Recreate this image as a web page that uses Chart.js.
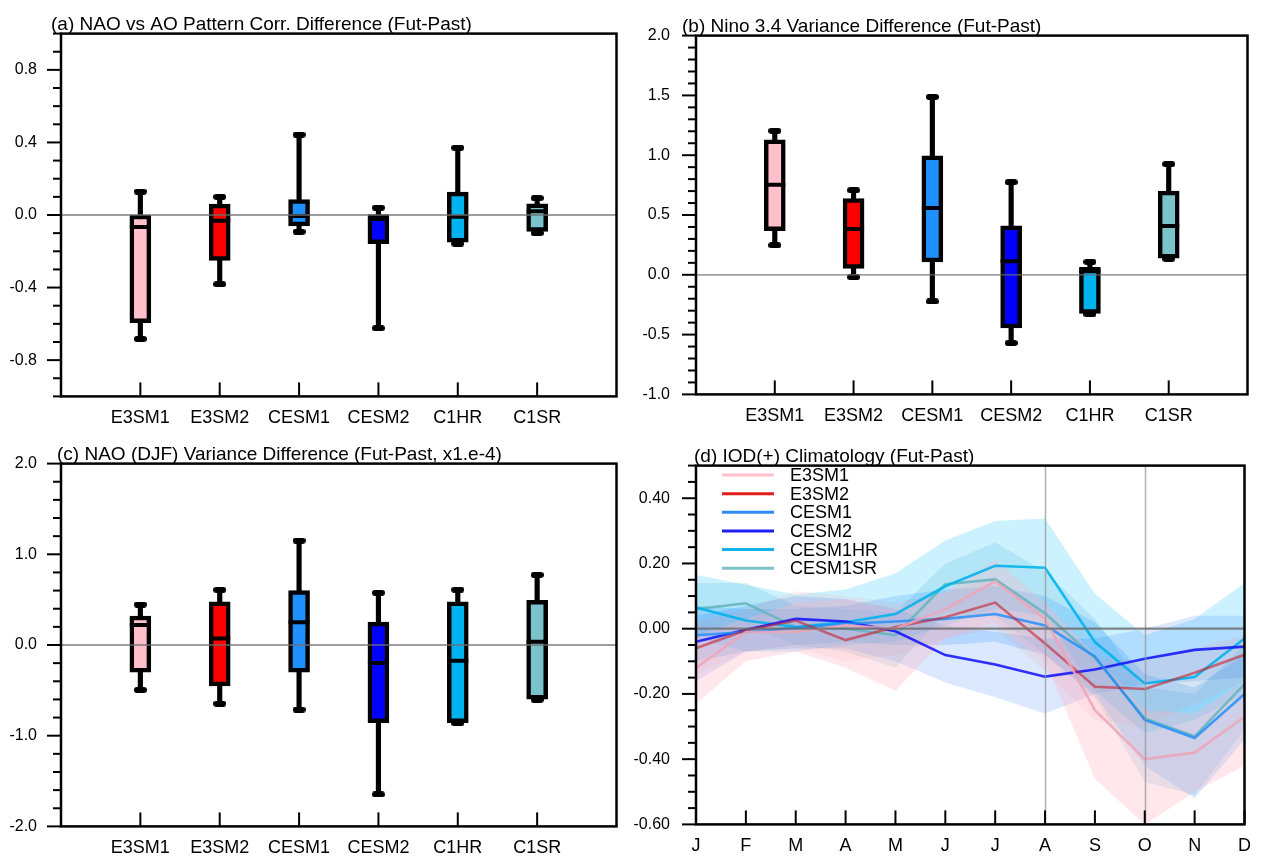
<!DOCTYPE html>
<html><head><meta charset="utf-8">
<script src="https://cdn.jsdelivr.net/npm/chart.js@4.4.1/dist/chart.umd.min.js"></script>
<style>
html,body{margin:0;padding:0;background:#fff;}
#wrap{position:relative;width:1262px;height:860px;background:#fff;}
.pan{position:absolute;width:631px;height:430px;}
</style></head><body>
<div id="wrap">
<div class="pan" style="left:0;top:0"><canvas id="ca" width="631" height="430"></canvas></div>
<div class="pan" style="left:631px;top:0"><canvas id="cb" width="631" height="430"></canvas></div>
<div class="pan" style="left:0;top:430px"><canvas id="cc" width="631" height="430"></canvas></div>
<div class="pan" style="left:631px;top:430px"><canvas id="cd" width="631" height="430"></canvas></div>
</div>
<script>
// ---------------- DATA ----------------
const models = ['E3SM1','E3SM2','CESM1','CESM2','C1HR','C1SR'];

// (a) NAO vs AO Pattern Corr. Difference
const aMax = [0.129, 0.100, 0.443, 0.040, 0.371, 0.093];
const aQ3  = [0.000, 0.060, 0.085, 0.002, 0.126, 0.061];
const aMed = [-0.066, -0.032, -0.005, -0.022, -0.010, 0.020];
const aQ1  = [-0.594, -0.250, -0.060, -0.158, -0.150, -0.091];
const aMin = [-0.683, -0.382, -0.092, -0.624, -0.158, -0.100];

// (b) Nino 3.4 Variance Difference
const bMax = [1.204, 0.707, 1.487, 0.774, 0.108, 0.925];
const bQ3  = [1.129, 0.637, 0.995, 0.409, 0.062, 0.699];
const bMed = [0.753, 0.382, 0.559, 0.113, 0.030, 0.409];
const bQ1  = [0.368, 0.054, 0.108, -0.444, -0.323, 0.140];
const bMin = [0.247, -0.019, -0.223, -0.570, -0.330, 0.134];

// (c) NAO (DJF) Variance Difference
const cMax = [0.446, 0.608, 1.151, 0.576, 0.610, 0.773];
const cQ3  = [0.320, 0.475, 0.600, 0.252, 0.475, 0.493];
const cMed = [0.220, 0.072, 0.252, -0.198, -0.173, 0.036];
const cQ1  = [-0.300, -0.450, -0.300, -0.856, -0.856, -0.597];
const cMin = [-0.496, -0.647, -0.712, -1.647, -0.863, -0.604];

// (d) IOD(+) Climatology
const months = ['J','F','M','A','M','J','J','A','S','O','N','D'];
const lineNames = ['E3SM1','E3SM2','CESM1','CESM2','CESM1HR','CESM1SR'];
const e3sm1Mean  = [-0.120, -0.010, -0.010, 0.010, 0.000, 0.060, 0.145, 0.030, -0.250, -0.400, -0.380, -0.270];
const e3sm1Hi    = [-0.020, 0.030, 0.080, 0.090, 0.060, 0.110, 0.210, 0.080, -0.080, -0.250, -0.260, -0.160];
const e3sm1Lo    = [-0.230, -0.100, -0.070, -0.120, -0.190, -0.030, 0.020, -0.100, -0.460, -0.600, -0.500, -0.420];
const e3sm2Mean  = [-0.060, -0.005, 0.025, -0.035, 0.005, 0.035, 0.080, -0.045, -0.178, -0.185, -0.135, -0.080];
const e3sm2Hi    = [0.020, 0.060, 0.115, 0.100, 0.080, 0.110, 0.160, 0.050, -0.090, -0.100, -0.060, -0.020];
const e3sm2Lo    = [-0.140, -0.070, -0.060, -0.100, -0.080, -0.030, 0.000, -0.130, -0.280, -0.300, -0.230, -0.160];
const cesm1Mean  = [-0.020, -0.010, 0.003, 0.015, 0.022, 0.030, 0.045, 0.010, -0.085, -0.280, -0.335, -0.200];
const cesm1Hi    = [0.070, 0.060, 0.060, 0.070, 0.100, 0.120, 0.130, 0.100, 0.020, -0.140, -0.180, -0.080];
const cesm1Lo    = [-0.100, -0.070, -0.050, -0.040, -0.050, -0.050, -0.040, -0.080, -0.200, -0.420, -0.520, -0.340];
const cesm2Mean  = [-0.040, -0.003, 0.030, 0.022, -0.008, -0.081, -0.110, -0.147, -0.125, -0.092, -0.065, -0.055];
const cesm2Hi    = [0.040, 0.070, 0.100, 0.090, 0.060, 0.010, -0.010, -0.030, -0.030, 0.000, 0.040, 0.040];
const cesm2Lo    = [-0.160, -0.070, -0.060, -0.060, -0.100, -0.165, -0.210, -0.260, -0.200, -0.170, -0.160, -0.150];
const c1hrMean   = [0.065, 0.025, 0.005, 0.020, 0.045, 0.130, 0.193, 0.187, -0.041, -0.168, -0.148, -0.030];
const c1hrHi     = [0.165, 0.135, 0.105, 0.120, 0.170, 0.270, 0.330, 0.338, 0.107, -0.020, 0.030, 0.140];
const c1hrLo     = [-0.030, -0.070, -0.070, -0.050, -0.040, 0.010, 0.060, 0.040, -0.190, -0.320, -0.280, -0.200];
const c1srMean   = [0.060, 0.078, 0.005, 0.000, -0.020, 0.136, 0.151, 0.047, -0.090, -0.275, -0.330, -0.170];
const c1srHi     = [0.140, 0.140, 0.070, 0.060, 0.050, 0.200, 0.264, 0.176, 0.030, -0.180, -0.200, -0.050];
const c1srLo     = [-0.020, 0.010, -0.050, -0.070, -0.120, 0.050, 0.040, -0.080, -0.210, -0.470, -0.510, -0.310];

// ---------------- STYLE ----------------
const FONT = '"Liberation Sans", Arial, Helvetica, sans-serif';
const boxColors = ['#FFC0CB', '#FF0000', '#1E90FF', '#0000FF', '#00B2EE', '#7AC3CB'];
const lineColors = ['rgba(240,165,182,0.85)', 'rgba(200,35,50,0.62)', 'rgba(30,140,250,0.8)', 'rgba(20,20,250,0.88)', 'rgba(0,178,238,0.88)', 'rgba(105,182,192,0.9)'];
const legendColors = ['#FFC0CB', '#E41E1E', '#2F8CF2', '#1E1EF0', '#10B2EA', '#7CC2C8'];
const bandColors = ['rgba(255,180,195,0.32)', 'rgba(255,110,110,0.10)', 'rgba(30,144,255,0.20)', 'rgba(40,120,250,0.17)', 'rgba(0,191,255,0.20)', 'rgba(90,175,200,0.20)'];

function isMult(v, step) { const r = v / step; return Math.abs(r - Math.round(r)) < 1e-6; }

// NCL-like decorations: frame, ticks, reference lines, titles, legend
const nclPlugin = {
  id: 'ncl',
  afterDatasetsDraw(chart, args, o) {
    const ctx = chart.ctx, ca = chart.chartArea, ys = chart.scales.y, xs = chart.scales.x;
    ctx.save();
    ctx.beginPath(); ctx.rect(ca.left, ca.top, ca.right - ca.left, ca.bottom - ca.top); ctx.clip();
    if (o.vlines) {
      ctx.strokeStyle = 'rgba(150,150,150,0.75)'; ctx.lineWidth = 1.5;
      o.vlines.forEach(v => { const px = Math.round(xs.getPixelForValue(v)) + 0.5; ctx.beginPath(); ctx.moveTo(px, ca.top); ctx.lineTo(px, ca.bottom); ctx.stroke(); });
    }
    ctx.strokeStyle = o.zeroColor; ctx.lineWidth = o.zeroWidth;
    const zy = ys.getPixelForValue(0);
    ctx.beginPath(); ctx.moveTo(ca.left, zy); ctx.lineTo(ca.right, zy); ctx.stroke();
    ctx.restore();
  },
  afterDraw(chart, args, o) {
    const ctx = chart.ctx, ca = chart.chartArea, ys = chart.scales.y, xs = chart.scales.x;
    ctx.save();
    ctx.strokeStyle = '#000'; ctx.lineWidth = 2; ctx.lineCap = 'butt';
    // y ticks (outward)
    for (let k = 0; ; k++) {
      const v = ys.min + k * o.yMinor;
      if (v > ys.max + 1e-9) break;
      const major = isMult(v, o.yMajor);
      const py = ys.getPixelForValue(v);
      ctx.beginPath(); ctx.moveTo(ca.left - (major ? 14 : 8), py); ctx.lineTo(ca.left, py); ctx.stroke();
    }
    // x ticks (inward)
    o.xTicks.forEach(v => {
      const px = xs.getPixelForValue(v);
      ctx.beginPath(); ctx.moveTo(px, ca.bottom); ctx.lineTo(px, ca.bottom - 14); ctx.stroke();
    });
    // frame
    ctx.lineWidth = 2.5;
    ctx.strokeRect(ca.left, ca.top, ca.right - ca.left, ca.bottom - ca.top);
    // title
    ctx.fillStyle = '#000'; ctx.font = '19px ' + FONT; ctx.textBaseline = 'alphabetic'; ctx.textAlign = 'left';
    ctx.fillText(o.title, o.titleX, ca.top - 4);
    // legend
    if (o.legend) {
      ctx.font = '18px ' + FONT; ctx.textBaseline = 'middle';
      o.legend.names.forEach((n, i) => {
        const y = o.legend.y0 + i * o.legend.dy;
        ctx.strokeStyle = o.legend.colors[i]; ctx.lineWidth = 3;
        ctx.beginPath(); ctx.moveTo(o.legend.x0, y); ctx.lineTo(o.legend.x1, y); ctx.stroke();
        ctx.fillStyle = '#000'; ctx.fillText(n, o.legend.tx, y + 1);
      });
    }
    ctx.restore();
  }
};

function pill(w, h) {
  const c = document.createElement('canvas'); c.width = w; c.height = h;
  const g = c.getContext('2d'); g.fillStyle = '#000'; g.beginPath();
  g.arc(h / 2, h / 2, h / 2, Math.PI / 2, Math.PI * 1.5);
  g.arc(w - h / 2, h / 2, h / 2, -Math.PI / 2, Math.PI / 2);
  g.closePath(); g.fill();
  return c;
}
const capStyle = pill(13, 6);

function yScale(min, max, minor, major, dec, yw, pad) {
  return {
    type: 'linear', min: min, max: max,
    grid: { display: false, drawTicks: false }, border: { display: false },
    ticks: { stepSize: minor, autoSkip: false, padding: pad, color: '#000', font: { family: FONT, size: 16 },
      callback: (v) => isMult(v, major) ? (Math.abs(v) < 1e-9 ? 0 : v).toFixed(dec) : '' },
    afterFit: (s) => { s.width = yw; }
  };
}

function boxChart(id, mins, q1s, meds, q3s, maxs, y, geom, title) {
  const pos = models.map((m, i) => i + 1);
  new Chart(document.getElementById(id), {
    type: 'bar',
    data: { datasets: [
      { type: 'bar', label: 'whisker', data: pos.map((x, i) => ({ x: x, y: [mins[i], maxs[i]] })),
        backgroundColor: '#000', borderWidth: 0, barThickness: 4.5, grouped: false, order: 3 },
      { type: 'bar', label: 'box', data: pos.map((x, i) => ({ x: x, y: [q1s[i], q3s[i]] })),
        backgroundColor: boxColors, borderColor: '#000', borderWidth: 4.5, borderSkipped: false,
        barThickness: 21, grouped: false, order: 2 },
      { type: 'line', label: 'median', data: pos.map((x, i) => ({ x: x, y: meds[i] })), showLine: false,
        pointStyle: 'line', pointRadius: 10.5, pointBorderWidth: 4, borderColor: '#000', pointBorderColor: '#000', order: 1 },
      { type: 'line', label: 'caps', data: pos.map((x, i) => ({ x: x, y: maxs[i] })).concat(pos.map((x, i) => ({ x: x, y: mins[i] }))),
        showLine: false, pointStyle: capStyle, pointRadius: 6, order: 0 }
    ] },
    options: {
      responsive: false, animation: false, events: [],
      layout: { padding: { top: geom.top, right: geom.right, left: 0, bottom: 0 } },
      plugins: { legend: { display: false }, tooltip: { enabled: false },
        ncl: { title: title, titleX: geom.titleX, yMinor: y.minor, yMajor: y.major, xTicks: pos,
               zeroColor: 'rgba(110,110,110,0.9)', zeroWidth: 1.3 } },
      scales: {
        x: { type: 'linear', min: 0, max: 7, offset: false, grid: { display: false, drawTicks: false, offset: false }, border: { display: false },
          ticks: { stepSize: 1, autoSkip: false, maxRotation: 0, padding: geom.xpad, color: '#000', font: { family: FONT, size: 18 },
            callback: (v) => models[v - 1] || '' },
          afterFit: (s) => { s.height = geom.xh; } },
        y: yScale(y.min, y.max, y.minor, y.major, y.dec, geom.yw, geom.ypad)
      }
    },
    plugins: [nclPlugin]
  });
}

boxChart('ca', aMin, aQ1, aMed, aQ3, aMax, { min: -1, max: 1, minor: 0.1, major: 0.4, dec: 1 },
  { top: 28, right: 10, yw: 61, xh: 31, xpad: 11, ypad: 24, titleX: 51 },
  '(a) NAO vs AO Pattern Corr. Difference (Fut-Past)');
boxChart('cb', bMin, bQ1, bMed, bQ3, bMax, { min: -1, max: 2, minor: 0.1, major: 0.5, dec: 1 },
  { top: 28, right: 8, yw: 65, xh: 31, xpad: 11, ypad: 26, titleX: 51 },
  '(b) Nino 3.4 Variance Difference (Fut-Past)');
boxChart('cc', cMin, cQ1, cMed, cQ3, cMax, { min: -2, max: 2, minor: 0.2, major: 1, dec: 1 },
  { top: 26, right: 10, yw: 61, xh: 32, xpad: 11, ypad: 24, titleX: 57 },
  '(c) NAO (DJF) Variance Difference (Fut-Past, x1.e-4)');

// ---- panel (d) ----
const means = [e3sm1Mean, e3sm2Mean, cesm1Mean, cesm2Mean, c1hrMean, c1srMean];
const his = [e3sm1Hi, e3sm2Hi, cesm1Hi, cesm2Hi, c1hrHi, c1srHi];
const los = [e3sm1Lo, e3sm2Lo, cesm1Lo, cesm2Lo, c1hrLo, c1srLo];
const dSets = [];
lineNames.forEach((n, i) => {
  dSets.push({ label: n + ' hi', data: his[i], borderWidth: 0, pointRadius: 0, fill: false, order: 10, borderColor: 'rgba(0,0,0,0)' });
  dSets.push({ label: n + ' lo', data: los[i], borderWidth: 0, pointRadius: 0, fill: '-1', backgroundColor: bandColors[i], order: 10, borderColor: 'rgba(0,0,0,0)' });
});
lineNames.forEach((n, i) => {
  dSets.push({ label: n, data: means[i], borderColor: lineColors[i], borderWidth: 2.6, pointRadius: 0, fill: false, tension: 0, order: 1 });
});
new Chart(document.getElementById('cd'), {
  type: 'line',
  data: { labels: months, datasets: dSets },
  options: {
    responsive: false, animation: false, events: [],
    layout: { padding: { top: 26, right: 10, left: 0, bottom: 0 } },
    plugins: { legend: { display: false }, tooltip: { enabled: false },
      ncl: { title: '(d) IOD(+) Climatology (Fut-Past)', titleX: 63, yMinor: 0.05, yMajor: 0.2,
        xTicks: months.map((m, i) => i), vlines: [7, 9], zeroColor: 'rgba(105,105,105,0.8)', zeroWidth: 2.2,
        legend: { names: lineNames, colors: legendColors, x0: 91, x1: 143, tx: 159, y0: 45, dy: 18.65 } } },
    scales: {
      x: { type: 'category', offset: false, grid: { display: false, drawTicks: false }, border: { display: false },
        ticks: { autoSkip: false, maxRotation: 0, padding: 11, color: '#000', font: { family: FONT, size: 18 } },
        afterFit: (s) => { s.height = 32; } },
      y: yScale(-0.6, 0.5, 0.05, 0.2, 2, 65, 26)
    }
  },
  plugins: [nclPlugin]
});
</script>
</body></html>
